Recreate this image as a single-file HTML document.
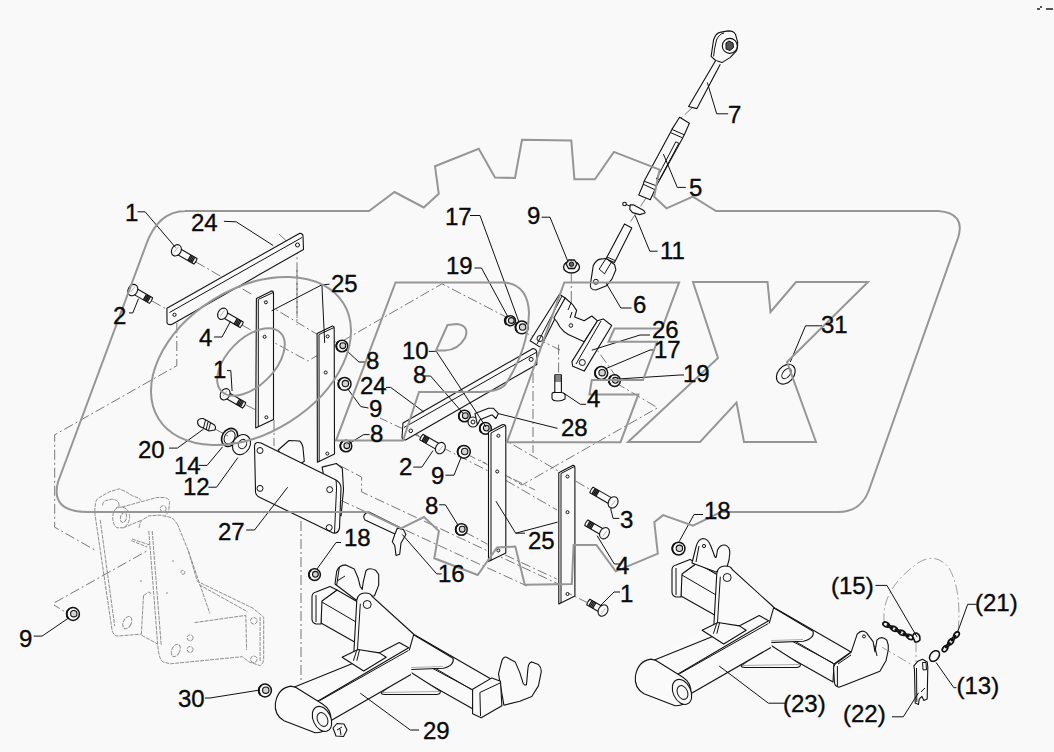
<!DOCTYPE html>
<html><head><meta charset="utf-8">
<style>
html,body{margin:0;padding:0;background:#f8f9f8;width:1054px;height:752px;overflow:hidden}
svg{display:block}
text{font-family:"Liberation Sans",sans-serif;font-size:24px;fill:#0a0a0a;stroke:#0a0a0a;stroke-width:0.35}
.wm{fill:none;stroke:#969696;stroke-width:2;stroke-linejoin:miter}
.ln{fill:none;stroke:#111;stroke-width:1}
.cl{fill:none;stroke:#555;stroke-width:0.8;stroke-dasharray:10 3 2 3}
.pt{fill:#fafafa;stroke:#111;stroke-width:1.1;stroke-linejoin:round}
</style></head><body>
<svg width="1054" height="752" viewBox="0 0 1054 752">


<g id="toplink">
<!-- 7 eye -->
<path class="pt" d="M711.1,56.4 L713.6,39.7 Q716,33 719.9,32.4 L728.2,30.9 Q734,31 735.5,34.4 L737.6,41.8 Q738,48 736.2,51.1 L730.3,57.4 L722,62.6 L715.7,60.5 Z"/>
<path class="ln" d="M713.6,56.4 Q714,50 716.5,40 Q719,34 724,33"/>
<circle class="pt" cx="729.8" cy="45.9" r="7.5"/>
<path style="fill:#555;stroke:#111;stroke-width:1" d="M726,43 L729,41 L733,43 L733.5,47.5 L730,50.5 L726,49 Z"/>
<path class="pt" d="M715.7,60.5 L688.6,106.5 L696.9,108.6 L720.3,64.3"/>
<path class="ln" d="M707.3,82.5 L716.7,113.8 L728.2,113.8"/>
<path class="cl" d="M692,108 L681,118"/>
<!-- 5 turnbuckle -->
<path class="pt" d="M679.6,117.3 L689.4,123.2 L684.3,134.8 L682.7,137.9 L656.4,185.8 L654.9,189.7 L650.3,199.8 L638.7,195.1 L643.3,184.3 L644.1,181.2 L670.4,132.5 L671.9,129.4 Z"/>
<path class="ln" d="M671.9,129.4 L684.3,134.8 M670.4,132.5 L682.7,137.9 M644.1,181.2 L656.4,185.8 M643.3,184.3 L654.9,189.7"/>
<path class="ln" d="M675.8,141.8 L678.9,143.3 L659.5,179.6 L656.4,178.9 Z"/>
<path class="ln" d="M663.4,154.1 L677.3,187.4 L685.8,187.4"/>
<path class="cl" d="M646,198 L629,224"/>
<!-- 11 pin -->
<circle class="pt" cx="624.5" cy="204" r="1.8"/>
<path class="ln" d="M626,204.5 L630,206"/>
<path class="pt" d="M630.2,204.9 L633.8,204.9 L643.8,210.6 Q646,213 644.4,213.3 L639.8,214.6 L632.5,212.6 L629.8,209.3 Z"/>
<path class="ln" d="M635.1,215.3 L649.8,251.2 L657.7,251.2"/>
<!-- 6 sleeve and fork -->
<path class="pt" d="M624.5,223.9 L631.8,227.9 L614.5,262.5 L605.9,259.1 Z"/>
<path class="ln" d="M607,257 L615,260.5"/>
<path class="pt" d="M590.6,283.1 L593.2,265.8 Q596,260 599.9,259.1 L606.5,258.5 L614.5,264.5 L615.9,269.8 L611.9,279.1 L606.5,285.7 L595.9,290 Q589,290 590.6,283.1 Z"/>
<path class="ln" d="M605.5,282 L620.8,308 L631.5,308"/>
<path class="ln" d="M599.2,269.1 L606,258.5 L611.5,262 L604.5,273.8 Z"/>
<circle class="ln" cx="595.9" cy="281.8" r="2.5"/>
<!-- nut 9 -->
<ellipse class="pt" style="stroke-width:1.4" cx="571.5" cy="267" rx="8" ry="6"/><path class="pt" style="fill:#ddd;stroke-width:1.3" d="M566,264 L568.5,260 L574.5,260 L577,264 L574.5,268.5 L568.5,268.5 Z"/><circle class="ln" style="fill:#666" cx="571.5" cy="264.2" r="2.2"/>
<path class="ln" d="M541.7,217.2 L550,217.2 L568,261.8"/>
<path class="cl" d="M571.3,273 L571.3,300"/>
</g>

<g id="leftgroup">
<!-- centerlines -->
<path class="cl" d="M196,262 L253,295 M152,301 L170,311 M242,325 L258,334 M279,234 L297,251 L297,318 M265,303 L320,336 M264,337 L307.8,361 L442,283.8 L508,318 M297,270 L297,325 M327,337 L341,345 M326,373 L344,384 M246,405 L256,410 M215,429 L228,436 M274,420 L274,446"/>
<!-- bar 24 -->
<path class="pt" d="M166.9,308.2 L299.8,233.2 Q303,233.5 303,236 L303.5,249.5 L171.7,324.5 Q167,325 167,322.5 Z"/>
<path class="ln" d="M169.5,312.5 L302,237.5"/>
<circle class="ln" cx="174.5" cy="314.8" r="1.6"/>
<circle class="ln" cx="297.5" cy="245" r="2"/>
<path class="ln" d="M223.9,221.3 L236.2,221.8 L273.2,245.5"/>
<!-- bolts -->
<g transform="translate(176.4,250.3) rotate(30)"><path class="pt" d="M2,-3.2 L22.0,-3.2 Q23.0,0 22.0,3.2 L2,3.2 Z"/><path class="ln" style="stroke-width:1.3" d="M15.0,-3.2 L15.0,3.2 M16.5,-3.2 L16.5,3.2 M18.0,-3.2 L18.0,3.2 M19.5,-3.2 L19.5,3.2 "/><ellipse class="pt" cx="0" cy="0" rx="4.6" ry="6"/><path class="ln" style="stroke:#999;stroke-width:0.6" d="M0,-4 L-1,3"/></g>
<path class="ln" d="M137.5,211.8 L145.1,211.8 L175.5,247.4"/>
<g transform="translate(132.8,290.1) rotate(30)"><path class="pt" d="M2,-3.2 L21.0,-3.2 Q22.0,0 21.0,3.2 L2,3.2 Z"/><path class="ln" style="stroke-width:1.3" d="M14.0,-3.2 L14.0,3.2 M15.5,-3.2 L15.5,3.2 M17.0,-3.2 L17.0,3.2 M18.5,-3.2 L18.5,3.2 "/><ellipse class="pt" cx="0" cy="0" rx="4.6" ry="6"/><path class="ln" style="stroke:#999;stroke-width:0.6" d="M0,-4 L-1,3"/></g>
<path class="ln" d="M129,312.9 L132.8,312.9 L138.5,298.7"/>
<g transform="translate(222.6,313.8) rotate(30)"><path class="pt" d="M2,-3.2 L22.0,-3.2 Q23.0,0 22.0,3.2 L2,3.2 Z"/><path class="ln" style="stroke-width:1.3" d="M15.0,-3.2 L15.0,3.2 M16.5,-3.2 L16.5,3.2 M18.0,-3.2 L18.0,3.2 M19.5,-3.2 L19.5,3.2 "/><ellipse class="pt" cx="0" cy="0" rx="4.6" ry="6"/><path class="ln" style="stroke:#999;stroke-width:0.6" d="M0,-4 L-1,3"/></g>
<path class="ln" d="M214,337 L222,337 L230.5,321.4"/>
<g transform="translate(225.1,394.3) rotate(30)"><path class="pt" d="M2,-3.2 L22.0,-3.2 Q23.0,0 22.0,3.2 L2,3.2 Z"/><path class="ln" style="stroke-width:1.3" d="M15.0,-3.2 L15.0,3.2 M16.5,-3.2 L16.5,3.2 M18.0,-3.2 L18.0,3.2 M19.5,-3.2 L19.5,3.2 "/><ellipse class="pt" cx="0" cy="0" rx="4.6" ry="6"/><path class="ln" style="stroke:#999;stroke-width:0.6" d="M0,-4 L-1,3"/></g>
<path class="ln" d="M227,370.6 L230.8,370.6 L232.1,391"/>
<!-- plates 25 -->
<path class="pt" d="M256.4,298.5 L271.6,290.9 Q273.5,291 273.5,293 L273.5,419.6 L255.7,428 Z"/>
<path class="ln" d="M258.3,299.4 L258.3,427 M258.3,299.4 L273.5,292.4"/>
<circle class="ln" cx="265.9" cy="302.3" r="1.5"/><circle class="ln" cx="264.6" cy="336.8" r="1.5"/><circle class="ln" cx="266.4" cy="417.3" r="1.5"/>
<path class="pt" d="M317.1,333.6 L332.5,326 Q334.2,326 334.2,328 L334.5,454 L317.4,462.3 Z"/>
<path class="ln" d="M319,334.5 L319.2,461.5 M319,334.5 L334.2,327.5"/>
<circle class="ln" cx="327.6" cy="336.4" r="1.5"/><circle class="ln" cx="325.7" cy="372.5" r="1.5"/><circle class="ln" cx="327.3" cy="453.6" r="1.5"/>
<path class="ln" d="M271.6,310.8 L321.9,284.8 L329.5,284.2 M321.9,284.8 L324.7,343"/>
<!-- nuts 8 9 -->
<circle class="pt" style="stroke-width:1.5" cx="342.0" cy="346.0" r="5.8"/><path class="ln" style="stroke-width:1.8" d="M337.94,350.06 A5.8,5.8 0 0 1 338.52,341.36"/><circle class="ln" style="fill:#d4d4d4;stroke-width:1.1" cx="342.8" cy="345.7" r="2.9"/>
<path class="ln" d="M345.6,349.7 L358.9,362 L365.5,362"/>
<circle class="pt" style="stroke-width:1.5" cx="344.6" cy="383.9" r="6.4"/><path class="ln" style="stroke-width:1.8" d="M340.1,388.4 A6.4,6.4 0 0 1 340.8,378.8"/><circle class="ln" style="fill:#d4d4d4;stroke-width:1.1" cx="345.4" cy="383.6" r="3.2"/>
<path class="ln" d="M347.5,388.6 L360.8,406.6 L368.4,408"/>
<circle class="pt" style="stroke-width:1.5" cx="346.0" cy="446.0" r="5.8"/><path class="ln" style="stroke-width:1.8" d="M341.94,450.06 A5.8,5.8 0 0 1 342.52,441.36"/><circle class="ln" style="fill:#d4d4d4;stroke-width:1.1" cx="346.8" cy="445.7" r="2.9"/>
<path class="ln" d="M349.4,443.4 L363.6,434.6 L369.6,434.6"/>
<!-- 20 14 12 -->
<path class="pt" d="M197.6,421 Q199,418 203,418.5 L206,420 L214.5,425 Q216.5,428 214.5,430 L209,431 L203,428 Q197,426 197.6,421 Z"/>
<path class="ln" d="M205.5,420 L203.5,428 M208,422 L206,430 M210.5,423 L208.5,430.5"/>
<path class="ln" d="M203.5,429.1 L177.4,448.1 L169.1,448.1"/>
<ellipse class="pt" cx="229.6" cy="437.4" rx="7.5" ry="9.5" transform="rotate(30 229.6 437.4)" style="fill:none;stroke-width:1.6"/>
<ellipse class="ln" cx="229.6" cy="437.4" rx="5" ry="7" transform="rotate(30 229.6 437.4)"/>
<path class="ln" d="M222.5,446.9 L207.1,465.4 L198.8,465.4"/>
<ellipse class="pt" cx="241.5" cy="444.6" rx="8.5" ry="10.5" transform="rotate(30 241.5 444.6)"/>
<ellipse class="ln" cx="242.5" cy="444" rx="4" ry="4.8" transform="rotate(30 242.5 444)"/>
<path class="ln" d="M237.9,457.6 L216.6,487.2 L208.3,487.2"/>
<!-- plate 27 with brackets -->
<path class="pt" d="M278.2,450 L289,440.5 L299.6,441 Q303,444 303.1,449.3 L304.3,461.2 L290,470 Z"/>
<path class="pt" d="M322.1,467.1 L336.4,463.5 L342.3,468.3 L343.5,489.6 L341.1,515.7 L330,510 Z"/>
<path class="pt" d="M254.5,446 Q255,441 261,443 L336,480 Q341,483 341,488 L339.5,528 Q338,534 333,533 L259,497 Q255,495 255.5,490 Z"/>
<path class="ln" d="M336,480 Q336.5,484 336.5,489 L334.5,533"/>
<circle class="ln" cx="260" cy="450.5" r="3"/><circle class="ln" cx="260" cy="488.4" r="3"/><circle class="ln" cx="329.7" cy="489.6" r="3"/><circle class="ln" cx="329.2" cy="527.6" r="3"/>
<path class="ln" d="M246.2,530 L254.5,530 L287.7,487.2"/>
</g>
<g id="frame" style="fill:none;stroke:#8f8f8f;stroke-width:1;stroke-dasharray:4 1">
<path d="M94.6,511.9 L95.4,503.9 Q96,499 99.4,497.5 L108.9,492 L119.3,488.8 L126.5,492 L132.8,496 L139.2,498.3 L140.8,500.7"/>
<path d="M102.5,505.5 Q103,501 105.7,500.7 L112.1,499.1 Q117,500 118.5,502.3 L119.3,506.3 L116.1,507.9"/>
<path d="M121.7,507.1 Q114,507 112.9,515.1 Q112,524 116.9,527.8 L123.3,527.8 Q129,525 129.7,516.7 Q129,508 121.7,507.1 M121.7,507.1 L156.8,497.5 L164.7,497.5 Q170,499 169.5,502.3 L168.7,511.9 L164.7,515.9 M123.3,527.8 L142,520"/>
<ellipse cx="123.5" cy="517.5" rx="3" ry="5" transform="rotate(15 123.5 517.5)"/>
<circle cx="163.2" cy="508.7" r="3"/>
<path d="M139.2,527.8 Q140,521 142.4,519.9 L148.8,515.9 L160,515.1 L171.1,517.5 L174.3,519.9 L177.5,524.4"/>
<path d="M94.6,511.9 L112,629.7 Q113,636 118.3,636 L140.8,634.2 M100.2,519.9 L114.7,626.1 M131.3,540.6 L147.2,547"/>
<path d="M143.5,595.6 L148.8,592 L152,594 M143.5,595.6 L141.3,635.1 L157.8,644.1"/>
<path d="M148.8,531 L157.8,645.9 Q159,660 163.2,662 L170.4,663.8 L242.2,656.7 L249.3,662 L260.1,665.6 Q264,663 263.7,658 L263.7,617.2 L252.9,608.2 L197.3,581.3 L188.3,550.8 L177.5,524.4"/>
<path d="M152.2,531 L161.2,645 M199.1,584.7 L247.6,611.8 M260.1,617 L260.1,662 M194.6,622.6 L245.8,615.4 L246.6,650 M188.3,550.8 L209.9,613.6"/>
<ellipse cx="127.3" cy="622.6" rx="4" ry="6.5" transform="rotate(25 127.3 622.6)"/>
<ellipse cx="175.8" cy="650.4" rx="4" ry="6.5" transform="rotate(25 175.8 650.4)"/>
<circle cx="190.1" cy="637.8" r="3"/><circle cx="190.1" cy="649.5" r="3"/><circle cx="253.8" cy="620.8" r="3.3"/><circle cx="253.8" cy="659.3" r="3.3"/><circle cx="182.9" cy="572.3" r="2"/>
<path d="M132,539 L150,545 M141,580 L141,582 M173,560 L173,562 M167,592 L167,594"/>
</g>
<g>
<path class="cl" d="M176.8,323 L176.8,365.7 L54.7,434.8 L54.7,527.2 L96.5,551 M54.7,602.6 L146.8,551 M75,618 L54,605"/>
<circle class="pt" style="stroke-width:1.5" cx="73.0" cy="614.0" r="6.4"/><path class="ln" style="stroke-width:1.8" d="M68.52,618.48 A6.4,6.4 0 0 1 69.16,608.88"/><circle class="ln" style="fill:#d4d4d4;stroke-width:1.1" cx="73.8" cy="613.7" r="3.2"/>
<path class="ln" d="M68.6,618 L42.1,636.1 L33.7,636.1"/>
</g>

<g id="center">
<path class="cl" d="M571.3,300 L571.3,326 M558.6,344.5 L558.6,374.9 M533,373 L533,453 M520,330 L560,350 M590,340 L620,382 M616,383 L657.6,407.8 L522,485 L480,460 M410,431 L500,477 L557,510 M498,436 L591,490 M497,471 L535,490 M465,532 L487.5,544.2 M420,437 L380,418 M340,465.7 L361.6,477.1 L361.6,491.9 L558.6,584.1 M340,500 L527,586 M505,554.9 L556.8,579 M466.3,454 L487.5,464.6"/>
<!-- bracket 26 -->
<path class="pt" d="M559.5,294.2 L565.2,298 L540.6,347.4 L530.1,340.7 Z"/>
<path class="ln" d="M562,296 L537,344"/>
<circle class="ln" cx="540" cy="338.5" r="3"/>
<path class="pt" d="M565.2,298 L572.8,304.7 L576.6,310.4 L574.7,317 L584.2,320.8 L591.8,316 L597.5,320.8 L584.2,341.7 L573.8,337 Q562,333 557,322 L553.9,318 Z"/>
<circle class="ln" cx="570.9" cy="325.5" r="1.8"/>
<path class="ln" d="M571,303 L568,310 M572,312 L570,318"/>
<path class="pt" d="M597.5,320.8 L603.2,318.9 L611.7,325.5 L584.2,371.1 L572.8,366.3 L571.9,361.6 Z"/>
<path class="ln" d="M601,321 L576,364"/>
<circle class="ln" cx="582.3" cy="362.5" r="3"/>
<path class="ln" d="M591.8,350.2 L640,335 L650,335"/>
<!-- nuts 17 19 upper -->
<circle class="pt" style="stroke-width:1.5" cx="510.5" cy="320.8" r="5"/><path class="ln" style="stroke-width:1.8" d="M506.44,324.86 A5.8,5.8 0 0 1 507.02,316.16"/><circle class="ln" style="fill:#d4d4d4;stroke-width:1.1" cx="511.3" cy="320.5" r="2.9"/>
<circle class="pt" style="stroke-width:1.5" cx="521.8" cy="327.4" r="6.4"/><path class="ln" style="stroke-width:1.8" d="M517.3199999999999,331.88 A6.4,6.4 0 0 1 517.9599999999999,322.28"/><circle class="ln" style="fill:#d4d4d4;stroke-width:1.1" cx="522.5999999999999" cy="327.09999999999997" r="3.2"/>
<path class="ln" d="M508,317 L481.5,268 L474.5,268 M519,322 L480,215.5 L470,215.5"/>
<!-- bolt 4 vertical -->
<path class="pt" d="M554.8,374.9 L561.4,374.9 L561.4,393.5 L554.8,393.5 Z"/>
<path class="ln" d="M554.8,377 L561.4,377 M554.8,379 L561.4,379 M554.8,381 L561.4,381"/>
<path class="pt" d="M552,394 Q552,392 556,392.5 L561,392.5 Q565.2,393 565.2,396 L565,399 Q562,401 558,401 Q552,401 552,398 Z"/>
<path class="ln" d="M563.3,392.9 L580.4,404.3 L586.1,404.3"/>
<!-- nuts 17 19 lower -->
<circle class="pt" style="stroke-width:1.5" cx="601.3" cy="373.0" r="6.4"/><path class="ln" style="stroke-width:1.8" d="M596.8199999999999,377.48 A6.4,6.4 0 0 1 597.4599999999999,367.88"/><circle class="ln" style="fill:#d4d4d4;stroke-width:1.1" cx="602.0999999999999" cy="372.7" r="3.2"/>
<circle class="pt" style="stroke-width:1.5" cx="614.6" cy="380.6" r="5.8"/><path class="ln" style="stroke-width:1.8" d="M610.5400000000001,384.66 A5.8,5.8 0 0 1 611.12,375.96000000000004"/><circle class="ln" style="fill:#d4d4d4;stroke-width:1.1" cx="615.4" cy="380.3" r="2.9"/>
<path class="ln" d="M605,369 L650,350 L655,350 M618,379 L680,375 L684,375"/>
<!-- bar 24b -->
<path class="pt" d="M403,423 L533,348.5 Q536.8,349 536.8,353 L536.8,364.4 L405.5,440 Q402,440 402,437 Z"/>
<path class="ln" d="M404,427.5 L536,352.5"/>
<circle class="ln" cx="410.8" cy="430.8" r="1.8"/><circle class="ln" cx="531.1" cy="359.4" r="2"/>
<path class="ln" d="M386,387.4 L390.7,387.4 L424,412.1"/>
<!-- 8, 10, 28 -->
<circle class="pt" style="stroke-width:1.5" cx="464.5" cy="416.0" r="5.8"/><path class="ln" style="stroke-width:1.8" d="M460.44,420.06 A5.8,5.8 0 0 1 461.02,411.36"/><circle class="ln" style="fill:#d4d4d4;stroke-width:1.1" cx="465.3" cy="415.7" r="2.9"/>
<circle class="pt" cx="473" cy="422" r="5"/><circle class="ln" cx="473" cy="422" r="2"/>
<circle class="pt" style="stroke-width:1.5" cx="485.5" cy="428.4" r="5.8"/><path class="ln" style="stroke-width:1.8" d="M481.44,432.46 A5.8,5.8 0 0 1 482.02,423.76"/><circle class="ln" style="fill:#d4d4d4;stroke-width:1.1" cx="486.3" cy="428.09999999999997" r="2.9"/>
<path class="pt" d="M477.4,424.7 L475,413.6 L488.5,408.3 L493.5,408.3 L498.4,413.6 L495.9,418.5 L492.2,414.8 L480,419.7 Z"/>
<path class="ln" d="M424.9,376 L430.6,376 L462.8,413 M428.7,351.4 L436.3,351.4 L486,427 M498.4,413.6 L557.6,428.4"/>
<!-- plate 25c, 25d -->
<path class="pt" d="M488.5,432.1 L502.1,424.7 Q505.8,424 505.8,427 L505.8,553 L488.5,561.6 Z"/>
<path class="ln" d="M491,433 L491,560.5 M491,433 L505,425.5"/>
<circle class="ln" cx="498.4" cy="435.8" r="1.5"/><circle class="ln" cx="497.2" cy="471.5" r="1.5"/><circle class="ln" cx="498.4" cy="550.5" r="1.5"/>
<path class="pt" d="M558.8,472.8 L572.6,465.4 Q574.9,465 574.9,468 L574.9,596 L558.8,604 Z"/>
<path class="ln" d="M561,473.5 L561,603 M561,473.5 L574.5,466.5"/>
<circle class="ln" cx="567.5" cy="476.5" r="1.5"/><circle class="ln" cx="567.5" cy="512.2" r="1.5"/><circle class="ln" cx="567.5" cy="594" r="1.5"/>
<path class="ln" d="M495.9,501.1 L515.7,533.2 L557.6,522.1 M515.7,533.2 L525,533.2"/>
<!-- bolt 2b -->
<g transform="translate(440.4,448.1) rotate(210)"><path class="pt" d="M2,-3.2 L22.0,-3.2 Q23.0,0 22.0,3.2 L2,3.2 Z"/><path class="ln" style="stroke-width:1.3" d="M15.0,-3.2 L15.0,3.2 M16.5,-3.2 L16.5,3.2 M18.0,-3.2 L18.0,3.2 M19.5,-3.2 L19.5,3.2 "/><ellipse class="pt" cx="0" cy="0" rx="4.6" ry="6"/><path class="ln" style="stroke:#999;stroke-width:0.6" d="M0,-4 L-1,3"/></g>
<path class="ln" d="M413.3,467.1 L421.9,467.1 L433,450.6"/>
<!-- nut 9b, 8c -->
<circle class="pt" style="stroke-width:1.5" cx="463.9" cy="451.8" r="6.4"/><path class="ln" style="stroke-width:1.8" d="M459.41999999999996,456.28000000000003 A6.4,6.4 0 0 1 460.06,446.68"/><circle class="ln" style="fill:#d4d4d4;stroke-width:1.1" cx="464.7" cy="451.5" r="3.2"/>
<path class="ln" d="M445.4,475.2 L454,475.2 L461.4,456.7"/>
<circle class="pt" style="stroke-width:1.5" cx="461.4" cy="529.5" r="5.8"/><path class="ln" style="stroke-width:1.8" d="M457.34,533.56 A5.8,5.8 0 0 1 457.91999999999996,524.86"/><circle class="ln" style="fill:#d4d4d4;stroke-width:1.1" cx="462.2" cy="529.2" r="2.9"/>
<path class="ln" d="M439.2,504.8 L445.4,504.8 L457.7,524.6"/>
<!-- bolts 3, 4b, 1b -->
<g transform="translate(613.1,502.4) rotate(210)"><path class="pt" d="M2,-3.2 L25.0,-3.2 Q26.0,0 25.0,3.2 L2,3.2 Z"/><path class="ln" style="stroke-width:1.3" d="M18.0,-3.2 L18.0,3.2 M19.5,-3.2 L19.5,3.2 M21.0,-3.2 L21.0,3.2 M22.5,-3.2 L22.5,3.2 "/><ellipse class="pt" cx="0" cy="0" rx="4.6" ry="6"/><path class="ln" style="stroke:#999;stroke-width:0.6" d="M0,-4 L-1,3"/></g>
<path class="ln" d="M610.6,508.5 L613.1,518.4 L619.3,518.4"/>
<g transform="translate(604.5,533.2) rotate(210)"><path class="pt" d="M2,-3.2 L21.0,-3.2 Q22.0,0 21.0,3.2 L2,3.2 Z"/><path class="ln" style="stroke-width:1.3" d="M14.0,-3.2 L14.0,3.2 M15.5,-3.2 L15.5,3.2 M17.0,-3.2 L17.0,3.2 M18.5,-3.2 L18.5,3.2 "/><ellipse class="pt" cx="0" cy="0" rx="4.6" ry="6"/><path class="ln" style="stroke:#999;stroke-width:0.6" d="M0,-4 L-1,3"/></g>
<path class="ln" d="M597.1,535.7 L614.3,564 L620.5,564"/>
<g transform="translate(603,610.5) rotate(210)"><path class="pt" d="M2,-3.2 L17.0,-3.2 Q18.0,0 17.0,3.2 L2,3.2 Z"/><path class="ln" style="stroke-width:1.3" d="M10.0,-3.2 L10.0,3.2 M11.5,-3.2 L11.5,3.2 M13.0,-3.2 L13.0,3.2 M14.5,-3.2 L14.5,3.2 "/><ellipse class="pt" cx="0" cy="0" rx="4.6" ry="6"/><path class="ln" style="stroke:#999;stroke-width:0.6" d="M0,-4 L-1,3"/></g>
<path class="ln" d="M600,606 L614,592 L620,592"/>
<path class="cl" d="M588,603 L568,593"/>
<!-- pin 16 -->
<path class="pt" d="M366,513 Q362,516 365,520 L395,534 L399,527 L369,512 Z"/>
<path class="pt" d="M397.3,528.3 L403.4,529.5 L405.9,534.4 L401,543 L399.7,554.2 L396,555.4 L394.8,545.5 L392.3,541.8 L394.8,534.4 Z"/>
<path class="ln" d="M402.2,534.4 L436.7,573.9 L441.7,573.9"/>
<!-- nut 18 left -->
<g transform="translate(-3,-1)"><circle class="pt" style="stroke-width:1.5" cx="317.6" cy="575.6" r="5.8"/><path class="ln" style="stroke-width:1.8" d="M313.54,579.66 A5.8,5.8 0 0 1 314.12,570.96"/><circle class="ln" style="fill:#d4d4d4;stroke-width:1.1" cx="318.40000000000003" cy="575.3000000000001" r="2.9"/></g>
<path class="ln" d="M317,569 L336,542.5 L341,542.5"/>
<path class="cl" d="M301,521 L301,688"/>
</g>

<g id="frame23">
<path class="pt" d="M681,574 L697,563 L851,652 L834,664 L833,682 L681,596 Z"/>
<path class="ln" d="M681,574.5 L834,664 M790,640 L833,663"/>
<path class="pt" d="M672,570 Q672,566 676,565 L690,559.5 L697,563 L682,574 L681,597 L676,597 Q672,596 672,592 Z"/>
<path class="ln" d="M676,568 L676,595"/>
<path class="pt" d="M692,563 L696,547 Q698,539 703,538.5 Q708,538.5 710.8,546 L713.5,553 Q715.5,560 716.5,556 L717.5,550 Q720,544.5 725,545 Q730,546.5 729.8,553 L729,560 L727.2,566.3 L716,572 Z"/>
<path class="ln" d="M699,546 L696,562"/>
<circle class="ln" cx="704" cy="546" r="1.6"/>
<path style="fill:#fafafa;stroke:none" d="M713.4,633.7 L716.8,573.2 Q718,566 725,566 Q731,566 732.4,569.7 L773.5,607 L746.2,630.2 Z"/><path class="ln" style="stroke-width:1.1" d="M713.4,633.7 L716.8,573.2 Q718,566 725,566 Q731,566 732.4,569.7 L773.5,607"/>
<path class="ln" d="M716.8,633.7 L720.3,576.7"/>
<circle class="ln" cx="727.2" cy="577.5" r="4"/>
<path class="pt" d="M741.7,641.7 L769.4,622.7 L773.6,607.8 L813,631.2 Q815,638 803.4,641.3 L745,643.5 Q740,643 741.7,641.7 Z"/><path class="ln" style="stroke:#888;stroke-width:0.7" d="M743,641.5 L803,639.5"/>
<path class="pt" d="M741.7,665.2 L770.4,645 L800.2,664.1 Q801,667 797,667.5 L745,667.5 Q740,667 741.7,665.2 Z"/><path class="ln" style="stroke:#888;stroke-width:0.7" d="M743,665.5 L799,664.5"/>
<path style="fill:#fafafa;stroke:none" d="M650.9,659.1 L702,631 L741,625 L768.7,620.7 L772,648 L690.7,693.7 L675.1,705.8 L644,693.7 Z"/><path class="ln" style="stroke-width:1.2" d="M690.7,693.7 L771,647.5"/>
<path class="pt" d="M652.6,660.8 L741,625 L759.2,615.5 L768.7,620.7 L676.8,674.7 Z"/>
<path class="ln" d="M680,673.5 L768.4,623.5"/>
<path class="pt" d="M702.1,630.2 L718,622.5 L739.3,625.9 L746.2,630.2 L723.7,644 Z"/>
<path class="ln" d="M713.4,633.7 L716.8,623 M716.8,633.7 L719.5,623"/>
<path class="pt" d="M650.9,659.1 L656,660.5 L682.5,677 Q692,683 690.7,693.7 Q688,706 675.1,705.8 L644,693.7 Q634,688 635.4,676 Q638,661 650.9,659.1 Z"/>
<ellipse class="pt" cx="682" cy="691.9" rx="8.8" ry="13.2" transform="rotate(-25 682 691.9)"/>
<ellipse class="ln" cx="682.5" cy="692.5" rx="5" ry="7.2" transform="rotate(-25 682.5 692.5)"/>
<path class="pt" d="M833.6,668 Q834,663.8 838,662 L851.1,652.4 L857.2,634.2 Q861.7,629 866.3,632.6 L873.1,641.7 L875,652 L876.9,640.2 Q881.4,635 886.8,640.2 Q889,645 888.3,650 L886,660.7 L879.9,671.3 L845,685 L838.9,687.3 Q834.4,686 834.4,682 Z"/>
<path class="ln" d="M837.4,666 L837.4,686 M874.6,645.5 L877,656 M838,664 L851,655"/>
<circle class="ln" cx="864" cy="636.4" r="1.5"/>
<path class="ln" d="M719.2,666 L768.4,703.2 L785,703.2"/>
</g>
<g id="frame29" transform="translate(-360,27)">
<path class="pt" d="M681,574 L697,563 L851,652 L834,664 L833,682 L681,596 Z"/>
<path class="ln" d="M681,574.5 L834,664 M790,640 L833,663"/>
<path class="pt" d="M672,570 Q672,566 676,565 L690,559.5 L697,563 L682,574 L681,597 L676,597 Q672,596 672,592 Z"/>
<path class="ln" d="M676,568 L676,595"/>
<g transform="translate(0,-27)"><path class="pt" d="M695,584 L696.7,571.3 Q699,565 705.7,564.9 L714.3,569.1 L718,577.7 L720.1,586.2 L722.2,589.4 L723.3,581.9 L726,570.7 Q729,567 735.5,570.2 L738.7,574.5 L738.7,585.1 L734.5,595.7 L716,600 Z"/>
<path class="ln" d="M699.4,567 L696.7,585 M697,581 L705,576"/></g>
<path style="fill:#fafafa;stroke:none" d="M713.4,633.7 L716.8,573.2 Q718,566 725,566 Q731,566 732.4,569.7 L773.5,607 L746.2,630.2 Z"/><path class="ln" style="stroke-width:1.1" d="M713.4,633.7 L716.8,573.2 Q718,566 725,566 Q731,566 732.4,569.7 L773.5,607"/>
<path class="ln" d="M716.8,633.7 L720.3,576.7"/>
<circle class="ln" cx="727.2" cy="577.5" r="4"/>
<path class="pt" d="M741.7,641.7 L769.4,622.7 L773.6,607.8 L813,631.2 Q815,638 803.4,641.3 L745,643.5 Q740,643 741.7,641.7 Z"/><path class="ln" style="stroke:#888;stroke-width:0.7" d="M743,641.5 L803,639.5"/>
<path class="pt" d="M741.7,665.2 L770.4,645 L800.2,664.1 Q801,667 797,667.5 L745,667.5 Q740,667 741.7,665.2 Z"/><path class="ln" style="stroke:#888;stroke-width:0.7" d="M743,665.5 L799,664.5"/>
<path style="fill:#fafafa;stroke:none" d="M650.9,659.1 L702,631 L741,625 L768.7,620.7 L772,648 L690.7,693.7 L675.1,705.8 L644,693.7 Z"/><path class="ln" style="stroke-width:1.2" d="M690.7,693.7 L771,647.5"/>
<path class="pt" d="M652.6,660.8 L741,625 L759.2,615.5 L768.7,620.7 L676.8,674.7 Z"/>
<path class="ln" d="M680,673.5 L768.4,623.5"/>
<path class="pt" d="M702.1,630.2 L718,622.5 L739.3,625.9 L746.2,630.2 L723.7,644 Z"/>
<path class="ln" d="M713.4,633.7 L716.8,623 M716.8,633.7 L719.5,623"/>
<path class="pt" d="M650.9,659.1 L656,660.5 L682.5,677 Q692,683 690.7,693.7 Q688,706 675.1,705.8 L644,693.7 Q634,688 635.4,676 Q638,661 650.9,659.1 Z"/>
<ellipse class="pt" cx="682" cy="691.9" rx="8.8" ry="13.2" transform="rotate(-25 682 691.9)"/>
<ellipse class="ln" cx="682.5" cy="692.5" rx="5" ry="7.2" transform="rotate(-25 682.5 692.5)"/>
<g transform="translate(0,-27)"><path class="pt" d="M858.5,673.9 L861.9,660.6 Q864,656 866.5,657.3 L875.2,661.9 L879.8,672.6 L883.1,683.2 Q885,686 886.5,684.5 L887.8,669.9 Q888,663 891.8,661.9 L898.4,664.6 Q902,668 901.1,672.6 L898.4,685.9 L891.8,696.5 L879.8,701.2 L863.9,705.2 Z"/>
<path class="pt" d="M832.6,689.2 L851.9,677.9 L860.5,681.2 L861.9,705.8 L841.2,717.8 L832.6,713.8 Z"/>
<path class="ln" d="M839.9,692.5 L860,683 M839.9,692.5 L840.5,716"/></g></g>
<g id="f29extra">
<path class="ln" d="M360.3,693.2 L410.3,730 L419.1,730"/>
<circle class="pt" style="stroke-width:1.5" cx="265.0" cy="690.5" r="6.4"/><path class="ln" style="stroke-width:1.8" d="M260.5,695 A6.4,6.4 0 0 1 261.2,685.4"/><circle class="ln" style="fill:#d4d4d4;stroke-width:1.1" cx="265.8" cy="690.2" r="3.2"/>
<path class="ln" d="M260,690 L210,698 L205,698"/>
<path class="pt" d="M333,728 L337,723.5 L344,724 L347,730 L343.5,736.5 L336,736 Z"/><path class="ln" d="M337,730 L342,727 M340,729 L341,735"/>
</g>
<g id="right">
<!-- nut 18 right -->
<circle class="pt" style="stroke-width:1.5" cx="678.6" cy="548.6" r="6.4"/><path class="ln" style="stroke-width:1.8" d="M674.12,553.08 A6.4,6.4 0 0 1 674.76,543.48"/><circle class="ln" style="fill:#d4d4d4;stroke-width:1.1" cx="679.4" cy="548.3000000000001" r="3.2"/>
<path class="ln" d="M679.2,541.5 L694,514.5 L703,514.5"/>
<!-- washer 31 -->
<ellipse class="pt" cx="785.8" cy="374.2" rx="8" ry="11" transform="rotate(40 785.8 374.2)"/>
<ellipse class="ln" cx="786.5" cy="373.5" rx="3.5" ry="6" transform="rotate(40 786.5 373.5)"/>
<path class="ln" d="M790.3,362 L805.5,325.8 L822.1,325.8"/>
<!-- chain group -->
<path class="cl" d="M884.3,623.3 Q880,590 918.5,562.6 Q936,552 948.8,567.7 Q962,590 958,632 M882,647.2 L913.9,665.9 M916,642 L916,662" style="stroke:#777;stroke-width:0.7"/>
<g style="fill:none;stroke:#111;stroke-width:1.7"><ellipse cx="886.0" cy="624.5" rx="3.3" ry="2.2" transform="rotate(27 886.0 624.5)"/><ellipse cx="890.0" cy="626.6" rx="3.0" ry="1.0" transform="rotate(27 890.0 626.6)"/><ellipse cx="894.0" cy="628.7" rx="3.3" ry="2.2" transform="rotate(27 894.0 628.7)"/><ellipse cx="898.0" cy="630.8" rx="3.0" ry="1.0" transform="rotate(27 898.0 630.8)"/><ellipse cx="902.0" cy="632.8" rx="3.3" ry="2.2" transform="rotate(27 902.0 632.8)"/><ellipse cx="906.0" cy="634.9" rx="3.0" ry="1.0" transform="rotate(27 906.0 634.9)"/><ellipse cx="910.0" cy="637.0" rx="3.3" ry="2.2" transform="rotate(27 910.0 637.0)"/></g>
<path class="pt" style="stroke-width:1.6" d="M912.6,636 Q914,632.5 917,633.3 Q920.5,635 919.9,640 Q918,642.5 915,641.9 Z"/>
<g style="fill:none;stroke:#111;stroke-width:1.7"><ellipse cx="945.0" cy="648.8" rx="3.3" ry="2.2" transform="rotate(-50 945.0 648.8)"/><ellipse cx="947.9" cy="645.2" rx="3.0" ry="1.0" transform="rotate(-50 947.9 645.2)"/><ellipse cx="950.8" cy="641.8" rx="3.3" ry="2.2" transform="rotate(-50 950.8 641.8)"/><ellipse cx="953.6" cy="638.2" rx="3.0" ry="1.0" transform="rotate(-50 953.6 638.2)"/><ellipse cx="956.5" cy="634.8" rx="3.3" ry="2.2" transform="rotate(-50 956.5 634.8)"/></g>
<ellipse class="pt" style="stroke-width:1.5" cx="934.5" cy="656" rx="4.2" ry="6" transform="rotate(40 934.5 656)"/>
<path class="pt" d="M913.9,665.9 L917.9,661.2 L922.5,659.2 L927.2,661.9 L927.8,667.2 L927.2,699.1 L923.9,700.4 L921.9,696.4 L919.2,699.1 L918.5,704.4 L915.2,703.1 L914.5,669.8 Z"/>
<path class="ln" d="M922.5,662.5 L926,662.5 L926.5,669.8 L923,669.8 Z M916.5,668 L916.8,702 M921,692 L925,688"/>
<path class="ln" d="M875.5,585.4 L886.9,585.4 L917.2,637.2 M976.6,604.3 L967.7,604.3 L957.6,632.1 M936.1,662.5 L953.8,687.7 L956.4,687.7 M918.5,692.8 L903.3,716.8 L891.9,716.8"/>
</g>
<g id="wm">
<path class="wm" d="M185,211 L369,211 L394.5,192 L423.75,207.5 L438.75,193.75 L435,166.25 L478.75,148.75 L495,177.5 L515,178 L522,139.7 L571.3,140.5 L574.4,179.2 L594.9,179.2 L613.9,151.9 L659.5,169.6 L654.1,196.7 L666.5,208.3 L692.8,196.7 L716,211 L938,211 Q966,213 958,238 L869,490 Q861,512 838,512 L721,512 L692.9,525.6 L663.1,515.1 L654.3,522.1 L657.8,553.7 L615.7,571.3 L596.4,545 L573.6,545 L571.8,584 L524.8,584.8 L515.3,546.5 L497,547.5 L477.7,575 L434.3,558.3 L438.9,531 L424,517 L401,528.4 L367,512 L88,512 Q50,512 58,482 L146,245 Q158,211 186,211 Z"/>
<ellipse class="wm" cx="251" cy="361" rx="109" ry="72" transform="rotate(-32 251 361)"/>
<ellipse class="wm" cx="251" cy="362" rx="41.5" ry="23.5" transform="rotate(-45 251 362)"/>
<path class="wm" d="M395.5,282.5 L505,282.5 Q528,285 529,313 Q528,350 505,385 Q498,392 480,392 L419,392 L403,440.6 L336,440.6 Z"/>
<path class="wm" d="M447.5,325 L457,324 Q470,326 465,338 Q458,350 445,350.5 L436,350.5 Z"/>
<path class="wm" d="M564.3,282.4 L679.1,282.4 L662,328.6 L614.5,328.6 L608.5,341.8 L657,341.8 L643,380 L591.8,380 L589.4,394.4 L638.4,394.4 L620.5,442.2 L507,442.2 Z"/>
<path class="wm" d="M693,282 L767.5,282 L770.5,312 L796,282 L868,282 L787,362 L816,442 L744,442 L736.5,402.6 L700,442 L628,442 L718,358 Z"/>
</g>
<g id="labels">
<text x="728" y="123">7</text>
<text x="689" y="196">5</text>
<text x="660" y="259">11</text>
<text x="527" y="224">9</text>
<text x="445" y="225">17</text>
<text x="446" y="274">19</text>
<text x="633" y="313">6</text>
<text x="652" y="338">26</text>
<text x="654" y="358">17</text>
<text x="683" y="382">19</text>
<text x="587" y="407">4</text>
<text x="821" y="333">31</text>
<text x="561" y="436">28</text>
<text x="125" y="221">1</text>
<text x="191" y="231">24</text>
<text x="113" y="324">2</text>
<text x="199" y="346">4</text>
<text x="331" y="292">25</text>
<text x="366" y="369">8</text>
<text x="213" y="378">1</text>
<text x="369" y="417">9</text>
<text x="360" y="394">24</text>
<text x="402" y="359">10</text>
<text x="413" y="383">8</text>
<text x="370" y="442">8</text>
<text x="138" y="458">20</text>
<text x="174" y="474">14</text>
<text x="183" y="495">12</text>
<text x="218" y="540">27</text>
<text x="399" y="475">2</text>
<text x="431" y="484">9</text>
<text x="425" y="514">8</text>
<text x="620" y="528">3</text>
<text x="528" y="549">25</text>
<text x="344" y="546">18</text>
<text x="438" y="582">16</text>
<text x="616" y="574">4</text>
<text x="704" y="518.5">18</text>
<text x="620" y="602">1</text>
<text x="831" y="594">(15)</text>
<text x="975" y="611">(21)</text>
<text x="19" y="647">9</text>
<text x="956.5" y="693.5">(13)</text>
<text x="178" y="707">30</text>
<text x="783" y="712">(23)</text>
<text x="843" y="722">(22)</text>
<text x="423" y="739">29</text>
</g>
<g fill="#555"><rect x="1037" y="8" width="3" height="2"/><rect x="1040" y="6" width="2" height="2"/><rect x="1046" y="8" width="7" height="2"/></g>
</svg>
</body></html>
